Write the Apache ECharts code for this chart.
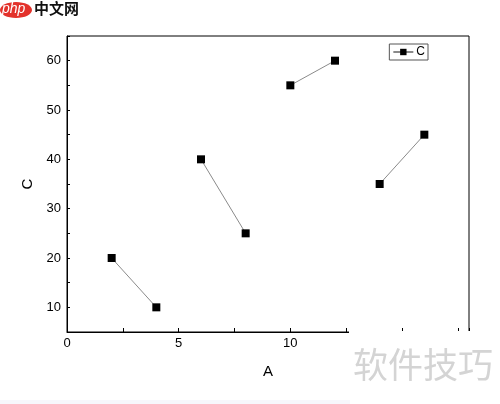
<!DOCTYPE html>
<html>
<head>
<meta charset="utf-8">
<script src="https://cdn.jsdelivr.net/npm/echarts@6/dist/echarts.min.js"></script>
<style>
  html, body { margin: 0; padding: 0; background: #fff; }
  #chart { width: 500px; height: 404px; }
</style>
</head>
<body>
<div id="chart"></div>
<script>
// data; points are drawn in pairs
const xValues = [2, 4, 6, 8, 10, 12, 14, 16];
const cValues = [20, 10, 40, 25, 55, 60, 35, 45];
const seriesName = 'C';

const chart = echarts.init(document.getElementById('chart'));

const series = [];
for (let i = 0; i < xValues.length; i += 2) {
  series.push({
    name: seriesName,
    type: 'line',
    data: [[xValues[i], cValues[i]], [xValues[i + 1], cValues[i + 1]]],
    symbol: 'rect',
    symbolSize: 8,
    itemStyle: { color: '#000' },
    lineStyle: { color: '#8a8a8a', width: 1 },
    animation: false
  });
}

const option = {
  animation: false,
  grid: {
    left: 67,
    right: 31,
    top: 36,
    bottom: 72,
    show: true,
    borderColor: '#000',
    borderWidth: 1
  },
  legend: {
    top: 44,
    right: 72,
    data: [seriesName],
    borderColor: '#555',
    borderWidth: 1,
    padding: [2, 3],
    itemWidth: 20,
    itemHeight: 8,
    itemGap: 2,
    textStyle: { fontFamily: 'Liberation Sans', fontSize: 12, color: '#000', padding: [0, 0, 0, -2] }
  },
  xAxis: {
    type: 'value',
    min: 0,
    max: 18,
    interval: 2.5,
    name: 'A',
    nameLocation: 'middle',
    nameGap: 32,
    nameTextStyle: { fontFamily: 'Liberation Sans', fontSize: 15, color: '#000' },
    axisLine: { lineStyle: { color: '#000', width: 1 } },
    axisTick: { inside: true, length: 4, lineStyle: { color: '#000' } },
    splitLine: { show: false },
    axisLabel: {
      fontFamily: 'Liberation Sans',
      fontSize: 13,
      color: '#000',
      margin: 5,
      formatter: v => (v % 5 === 0 ? String(v) : '')
    }
  },
  yAxis: {
    type: 'value',
    min: 5,
    max: 65,
    interval: 5,
    name: 'C',
    nameLocation: 'middle',
    nameGap: 31,
    nameTextStyle: { fontFamily: 'Liberation Sans', fontSize: 15, color: '#000' },
    axisLine: { show: true, lineStyle: { color: '#000', width: 1 } },
    axisTick: { inside: true, length: 3, lineStyle: { color: '#000' } },
    splitLine: { show: false },
    axisLabel: {
      fontFamily: 'Liberation Sans',
      fontSize: 13,
      color: '#000',
      margin: 6,
      formatter: v => (v % 10 === 0 && v >= 10 && v <= 60 ? String(v) : '')
    }
  },
  series: series,
  graphic: [
    // site logo, top left
    { type: 'ellipse', shape: { cx: 16, cy: 10, rx: 16, ry: 8 }, style: { fill: '#e3322b' }, z: 100 },
    { type: 'text', left: 2, top: 2, style: { text: 'php', fill: '#fff', font: 'italic 14px "Liberation Sans"' }, z: 101 },
    { type: 'text', left: 34, top: 1, style: { text: '中文网', fill: '#111', font: 'bold 15px "Noto Sans CJK SC"' }, z: 101 },
    // watermark, bottom right
    { type: 'rect', shape: { x: 349, y: 331, width: 151, height: 66 }, style: { fill: '#fff' }, z: 100 },
    { type: 'text', left: 353, top: 347, style: { text: '软件技巧', fill: '#d4d4d4', font: '35px "Noto Sans CJK SC"' }, z: 101 },
    // faint strip at the very bottom
    { type: 'rect', shape: { x: 0, y: 400, width: 350, height: 4 }, style: { fill: '#f7f7fc' }, z: 100 }
  ]
};

chart.setOption(option);
</script>
</body>
</html>
